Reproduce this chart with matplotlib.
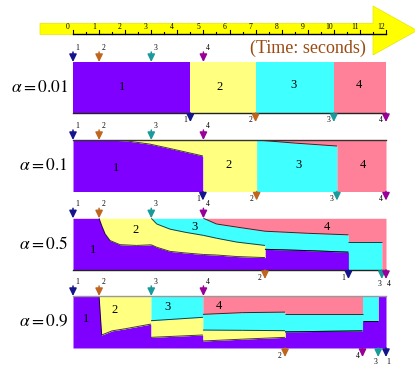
import numpy as np
import matplotlib
matplotlib.use('Agg')
import matplotlib.pyplot as plt
from matplotlib.patches import Polygon
from matplotlib.collections import LineCollection
from matplotlib.transforms import offset_copy

plt.rcParams['font.family'] = 'serif'
plt.rcParams['font.serif'] = ['Liberation Serif', 'DejaVu Serif']
plt.rcParams['mathtext.fontset'] = 'stix'

job_names = ['1', '2', '3', '4']
job_colors = ['#8000ff', '#ffff80', '#40ffff', '#ff8099']
arrow_colors = ['#14148c', '#c0651e', '#1a9a9a', '#990099']
arrivals = [0, 1, 3, 5]
tick_labels = [str(s) for s in range(13)]
alpha_labels = ['0.01', '0.1', '0.5', '0.9']

# share of the processor held by each job over time (rows: job 1..4)
t_a001 = [0, 4.5, 4.5, 7.0, 7.0, 10.0, 10.0, 12]
s_a001 = [
    [1, 1, 0, 0, 0, 0, 0, 0],
    [0, 0, 1, 1, 0, 0, 0, 0],
    [0, 0, 0, 0, 1, 1, 0, 0],
    [0, 0, 0, 0, 0, 0, 1, 1],
]

t_a01 = [0, 1, 2.0, 2.95, 3.85, 4.98, 4.98, 7.04, 7.04, 8.5, 10.12, 10.12, 12]
s_a01 = [
    [1, 1, .986, .92, .82, .69, 0, 0, 0, 0, 0, 0, 0],
    [0, 0, .014, .08, .18, .31, 1, 1, 0, 0, 0, 0, 0],
    [0, 0, 0, 0, 0, 0, 0, 0, 1, .94, .883, 0, 0],
    [0, 0, 0, 0, 0, 0, 0, 0, 0, .06, .117, 1, 1],
]

t_a05 = [0, 1.0, 1.1, 1.23, 1.42, 1.8, 2.44, 3.0, 3.21, 3.72, 4.3, 5.0, 5.5,
         6.28, 7.36, 7.36, 9.0, 10.56, 10.56, 11.84, 11.84, 12]
s_a05 = [
    [1, 1, .86, .70, .57, .49, .475, .487, .44, .36, .33, .30, .29,
     .26, .24, .40, .375, .345, 0, 0, 0, 0],
    [0, 0, .14, .30, .43, .51, .525, .513, .45, .43, .40, .37, .325,
     .28, .235, 0, 0, 0, 0, 0, 0, 0],
    [0, 0, 0, 0, 0, 0, 0, 0, .11, .21, .27, .33, .275,
     .29, .275, .35, .335, .335, .55, .55, 0, 0],
    [0, 0, 0, 0, 0, 0, 0, 0, 0, 0, 0, 0, .11,
     .17, .25, .25, .29, .32, .45, .45, 1, 1],
]

t_a09 = [0, 1.0, 1.1, 1.5, 2.0, 2.99, 2.99, 4.98, 4.98, 6.5, 8.13, 8.13,
         11.1, 11.1, 11.7, 11.7, 12]
s_a09 = [
    [1, 1, .25, .33, .37, .46, .205, .25, .135, .17, .205, .31, .33, .52, .52, 1, 1],
    [0, 0, .75, .67, .63, .54, .32, .34, .21, .17, .128, 0, 0, 0, 0, 0, 0],
    [0, 0, 0, 0, 0, 0, .475, .41, .302, .34, .357, .34, .32, .48, .48, 0, 0],
    [0, 0, 0, 0, 0, 0, 0, 0, .353, .32, .31, .35, .35, 0, 0, 0, 0],
]

runs = [(t_a001, s_a001), (t_a01, s_a01), (t_a05, s_a05), (t_a09, s_a09)]

# where the job numbers sit inside each band (seconds, height fraction)
label_pos = [
    [(1.87, .51), (5.6, .51), (8.47, .55), (10.97, .55)],
    [(1.65, .46), (5.98, .515), (8.63, .515), (11.12, .515)],
    [(0.77, .385), (2.38, .77), (4.64, .83), (9.74, .83)],
    [(0.5, .56), (1.61, .73), (3.64, .79), (5.6, .81)],
]
# band top / bottom in pixels, and which edge gets a rule line
band_px = [(62, 113), (140, 191.5), (218.3, 270), (296, 348)]
rule_lines = [('bottom', '#222222'), ('top', '#333333'),
              ('bottom', '#222222'), ('top', '#999999')]

W, H = 415, 366
PX_PER_S = 313 / 12.0
X0 = 73
ARROW = dict(arrowstyle='-|>,head_length=0.45,head_width=0.22', lw=1.1,
             shrinkA=0, shrinkB=0, mutation_scale=10)

fig = plt.figure(figsize=(W / 100, H / 100), dpi=100)

# time ruler across the top
ax0 = fig.add_axes([0, 0, 1, 1])
ax0.set_xlim(-X0 / PX_PER_S, (W - X0) / PX_PER_S)
ax0.set_ylim(H, 0)
ax0.axis('off')
sx = lambda px: (px - X0) / PX_PER_S
arrow = Polygon([(sx(40), 23.3), (sx(373), 23.3), (sx(373), 6), (sx(417), 30.5),
                 (sx(373), 55), (sx(373), 34.5), (sx(40), 34.5)],
                closed=True, facecolor='#ffff00', edgecolor='#e6e600', lw=0.5)
ax0.add_patch(arrow)
ax0.plot([0, 12], [34, 34], color='black', lw=1.0)
for i, lab in enumerate(tick_labels):
    ax0.plot([i, i], [34, 30], color='black', lw=0.8)
    if i < 12:
        ax0.plot([i + .5, i + .5], [34, 32], color='black', lw=0.8)
    ax0.text(i - 0.2, 27, lab, fontsize=5.5, ha='center', va='center')
ax0.text(sx(307.5), 48.5, '(Time: seconds)', fontsize=13, color='#9b4a12',
         ha='center', va='center')

for k, ((t, shares), (top, bot)) in enumerate(zip(runs, band_px)):
    ax = fig.add_axes([X0 / W, 1 - bot / H, 313 / W, (bot - top) / H])
    ax.set_xlim(0, 12)
    ax.set_ylim(0, 1)
    ax.axis('off')
    ax.patch.set_alpha(0)
    t = np.array(t, dtype=float)
    cum = np.vstack([np.zeros(len(t)), np.cumsum(np.array(shares, dtype=float), axis=0)])
    for j in range(4):
        ax.fill_between(t, cum[j], cum[j + 1], color=job_colors[j], lw=0)

    # dark edges along the sloping boundaries
    segs = []
    for j in range(1, 4):
        c = cum[j]
        for i in range(len(t) - 1):
            if t[i + 1] == t[i]:
                continue
            if (c[i] > .995 and c[i + 1] > .995) or (c[i] < .005 and c[i + 1] < .005):
                continue
            segs.append([(t[i], c[i]), (t[i + 1], c[i + 1])])
    ax.add_collection(LineCollection(segs, colors='black', linewidths=0.7, alpha=0.75))

    side, col = rule_lines[k]
    yl = 0 if side == 'bottom' else 1
    ax.plot([0, 12], [yl, yl], color=col, lw=1.0, clip_on=False)

    for j, (lx, ly) in enumerate(label_pos[k]):
        ax.text(lx, ly, job_names[j], fontsize=9, ha='center', va='center')

    ax.text(-0.016, 0.5, r'$\alpha = %s$' % alpha_labels[k], transform=ax.transAxes,
            fontsize=12.5, ha='right', va='center')

    # arrivals on top
    for j, a in enumerate(arrivals):
        ax.annotate('', xy=(a, 1), xytext=(0, 10), textcoords='offset pixels',
                    arrowprops=dict(color=arrow_colors[j], **ARROW), annotation_clip=False)
        ax.annotate(job_names[j], xy=(a, 1), xytext=(4.5, 14), textcoords='offset pixels',
                    fontsize=5.5, ha='center', va='center', annotation_clip=False)

    # completions underneath
    done = []
    for j in range(4):
        s = np.array(shares[j])
        done.append(t[np.nonzero(s > 0)[0][-1]])
    tip = offset_copy(ax.transData, fig=fig, x=0, y=-9, units='dots')
    for j in range(4):
        ax.annotate('', xy=(done[j], 0), xycoords=tip, xytext=(0, 9),
                    textcoords='offset pixels',
                    arrowprops=dict(color=arrow_colors[j], **ARROW), annotation_clip=False)
        near = [m for m in range(4) if m != j and abs(done[j] - done[m]) < 0.4]
        if near:
            dx = -2.5 if done[j] < done[near[0]] else 2.5
            off = (dx, -14)
        else:
            off = (-5, -7.5)
        ax.annotate(job_names[j], xy=(done[j], 0), xytext=off, textcoords='offset pixels',
                    fontsize=5.5, ha='center', va='center', annotation_clip=False)

fig.savefig('out.png', dpi=100)
